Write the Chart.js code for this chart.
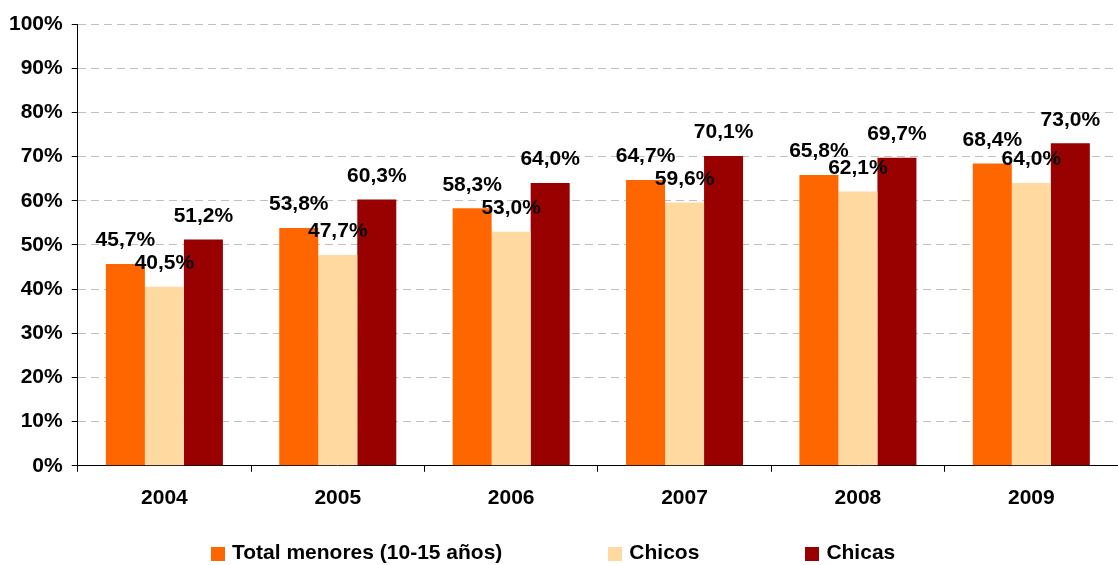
<!DOCTYPE html>
<html>
<head>
<meta charset="utf-8">
<script src="https://cdn.jsdelivr.net/npm/chart.js@4/dist/chart.umd.min.js"></script>
<style>
  html, body { margin: 0; padding: 0; background: #fff; }
  #wrap { position: relative; width: 1118px; height: 565px; }
  #legend {
    position: absolute; left: 211px; top: 540px;
    display: flex; align-items: center; gap: 106px;
    font: bold 21px "Liberation Sans", Arial, sans-serif; color: #000;
  }
  #legend .item { display: flex; align-items: center; white-space: nowrap; }
  #legend .box { width: 14px; height: 14px; margin-right: 7px; margin-top: 4px; }
</style>
</head>
<body>
<div id="wrap">
  <canvas id="chart" width="1118" height="565"></canvas>
  <div id="legend"></div>
</div>
<script>
// DATA
const years = ['2004', '2005', '2006', '2007', '2008', '2009'];
const totalMenores = [45.7, 53.8, 58.3, 64.7, 65.8, 68.4];
const chicos = [40.5, 47.7, 53.0, 59.6, 62.1, 64.0];
const chicas = [51.2, 60.3, 64.0, 70.1, 69.7, 73.0];
const seriesNames = ['Total menores (10-15 años)', 'Chicos', 'Chicas'];
const seriesColors = ['#FF6600', '#FFD9A0', '#990000'];

const FONT = '"Liberation Sans", Arial, sans-serif';

function fmt(v){
  return v.toFixed(1).replace('.', ',') + '%';
}

// etiquetas encima de cada barra
const valueLabels = {
  id: 'valueLabels',
  afterDatasetsDraw(chart){
    const ctx = chart.ctx;
    ctx.save();
    ctx.font = 'bold 21px ' + FONT;
    ctx.fillStyle = '#000';
    ctx.textAlign = 'center';
    ctx.textBaseline = 'bottom';
    chart.data.datasets.forEach((ds, i) => {
      chart.getDatasetMeta(i).data.forEach((bar, j) => {
        ctx.fillText(fmt(ds.data[j]), bar.x, bar.y - 13);
      });
    });
    ctx.restore();
  }
};

const allSeries = [totalMenores, chicos, chicas];

new Chart(document.getElementById('chart'), {
  type: 'bar',
  data: {
    labels: years,
    datasets: allSeries.map((d, i) => ({
      label: seriesNames[i],
      data: d,
      backgroundColor: seriesColors[i],
      borderWidth: 0,
      barPercentage: 1,
      categoryPercentage: 0.675
    }))
  },
  options: {
    responsive: false,
    animation: false,
    layout: { padding: { left: 0, right: 0, top: 24, bottom: 40 } },
    plugins: { legend: { display: false }, tooltip: { enabled: false } },
    scales: {
      x: {
        grid: { drawOnChartArea: false, tickLength: 6, tickColor: '#000' },
        border: { color: '#000', width: 1 },
        ticks: { color: '#000', padding: 14, font: { family: FONT, size: 21, weight: 'bold' } }
      },
      y: {
        min: 0, max: 100,
        ticks: {
          stepSize: 10, color: '#000', padding: 9,
          font: { family: FONT, size: 21, weight: 'bold' },
          callback: v => v + '%'
        },
        grid: { color: '#c0c0c0', tickLength: 6, tickColor: '#000' },
        border: { color: '#000', width: 1, dash: [8, 5] }
      }
    }
  },
  plugins: [valueLabels]
});

// leyenda
const legend = document.getElementById('legend');
seriesNames.forEach((name, i) => {
  const item = document.createElement('div');
  item.className = 'item';
  item.innerHTML = '<span class="box" style="background:' + seriesColors[i] + '"></span><span>' + name + '</span>';
  legend.appendChild(item);
});
</script>
</body>
</html>
